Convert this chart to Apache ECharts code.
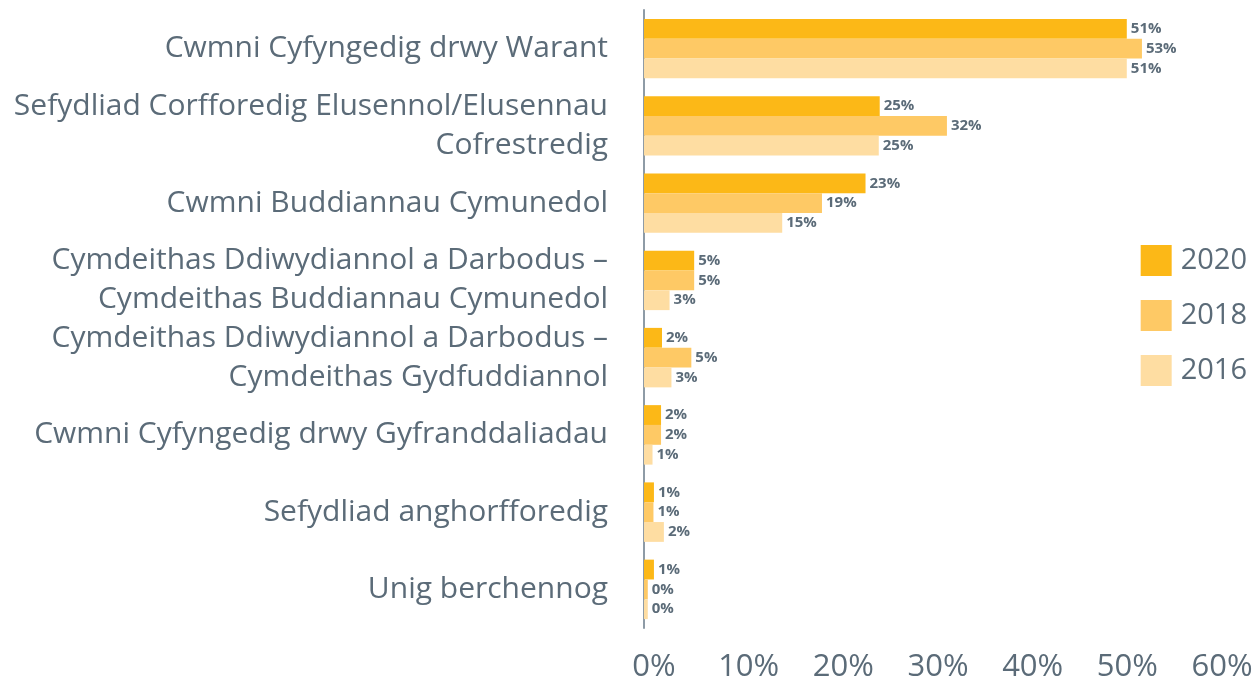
<!DOCTYPE html>
<html>
<head>
<meta charset="utf-8">
<script src="https://cdn.jsdelivr.net/npm/echarts@6/dist/echarts.min.js"></script>
<style>
  html, body { margin: 0; padding: 0; background: #fff; }
  #chart { width: 1254px; height: 686px; }
</style>
</head>
<body>
<div id="chart"></div>
<script>
// categories, top to bottom
const categories = [
  "Cwmni Cyfyngedig drwy Warant",
  "Sefydliad Corfforedig Elusennol/Elusennau\nCofrestredig",
  "Cwmni Buddiannau Cymunedol",
  "Cymdeithas Ddiwydiannol a Darbodus –\nCymdeithas Buddiannau Cymunedol",
  "Cymdeithas Ddiwydiannol a Darbodus –\nCymdeithas Gydfuddiannol",
  "Cwmni Cyfyngedig drwy Gyfranddaliadau",
  "Sefydliad anghorfforedig",
  "Unig berchennog"
];
// percentages
const values2020 = [51, 24.9, 23.4, 5.3, 1.9, 1.8, 1.05, 1.05];
const values2018 = [52.6, 32, 18.8, 5.3, 5.0, 1.8, 1.0, 0.4];
const values2016 = [51, 24.8, 14.6, 2.7, 2.9, 0.9, 2.1, 0.4];
const years = ["2020", "2018", "2016"];
const colors = ["#fcb817", "#fec965", "#fedda2"];
const textColor = "#5b6b78";
const fontFamily = "'Open Sans', 'Noto Sans', sans-serif";

const seriesValues = [values2020, values2018, values2016];

const chart = echarts.init(document.getElementById("chart"));

const option = {
  animation: false,
  backgroundColor: "#fff",
  grid: { left: 644, right: 42, top: 10, bottom: 58, containLabel: false, outerBoundsMode: "none" },
  legend: {
    orient: "vertical",
    right: 2,
    top: 240,
    itemWidth: 31,
    itemHeight: 31,
    itemGap: 24,
    icon: "rect",
    data: years,
    textStyle: { color: textColor, fontSize: 29, fontFamily: fontFamily, padding: [0, 0, 0, 4] }
  },
  xAxis: {
    type: "value",
    min: 0,
    max: 60,
    interval: 10,
    axisLine: { show: false },
    axisTick: { show: false },
    splitLine: { show: false },
    axisLabel: {
      formatter: "{value}%",
      color: textColor,
      fontSize: 31,
      fontFamily: fontFamily,
      margin: 24,
      padding: [0, 0, 0, 20]
    }
  },
  yAxis: {
    type: "category",
    inverse: true,
    data: categories,
    axisLine: { show: true, lineStyle: { color: "#8e9ba6", width: 2 } },
    axisTick: { show: false },
    axisLabel: {
      color: textColor,
      fontSize: 30,
      fontFamily: fontFamily,
      lineHeight: 39,
      margin: 36,
      align: "right"
    }
  },
  series: years.map((y, i) => ({
    name: y,
    type: "bar",
    data: seriesValues[i],
    barGap: "0%",
    barCategoryGap: "23%",
    itemStyle: { color: colors[i] },
    label: {
      show: true,
      position: "right",
      distance: 4,
      color: textColor,
      fontSize: 15,
      fontWeight: "bold",
      fontFamily: fontFamily,
      formatter: p => Math.round(p.value) + "%"
    }
  }))
};

chart.setOption(option);
</script>
</body>
</html>
